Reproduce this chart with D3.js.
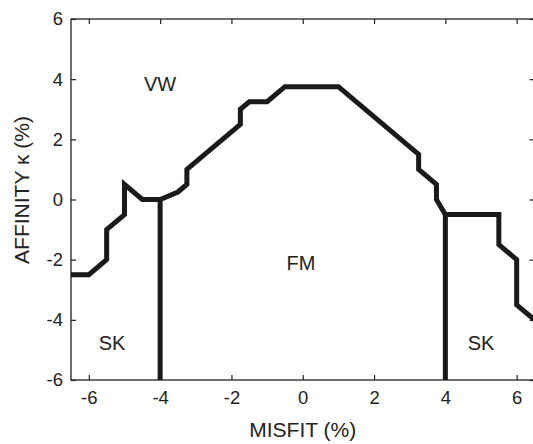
<!DOCTYPE html>
<html>
<head>
<meta charset="utf-8">
<script src="https://cdn.jsdelivr.net/npm/d3@7"></script>
<style>
  body { margin: 0; background: #fff; }
  text { font-family: "Liberation Sans", Arial, sans-serif; fill: #222; }
</style>
</head>
<body>
<svg id="chart" width="533" height="444"></svg>
<script>
// phase boundary (misfit %, affinity %)
var boundaryX = [-6.5, -6, -5.5, -5.5, -5, -5, -4.5, -4, -3.5, -3.25, -3.25, -1.75, -1.75, -1.5, -1, -0.5, 1, 3.25, 3.25, 3.75, 3.75, 4, 5.5, 5.5, 6, 6, 6.5];
var boundaryY = [-2.5, -2.5, -2, -1, -0.5, 0.5, 0, 0, 0.25, 0.5, 1, 2.5, 3, 3.25, 3.25, 3.75, 3.75, 1.5, 1, 0.5, 0, -0.5, -0.5, -1.5, -2, -3.5, -4];

// vertical separators [x, yTop, yBottom]
var separators = [[-4, 0, -6], [4, -0.5, -6]];

// region labels
var regionNames = ["VW", "FM", "SK", "SK"];
var regionX = [-4.0, -0.05, -5.35, 5.0];
var regionY = [3.83, -2.12, -4.78, -4.78];

var xTicks = [-6, -4, -2, 0, 2, 4, 6];
var yTicks = [-6, -4, -2, 0, 2, 4, 6];

var svg = d3.select("#chart");
var mLeft = 71, mTop = 19, mRight = 534.5, mBottom = 380;

var x = d3.scaleLinear().domain([-6.5, 6.5]).range([mLeft, mRight]);
var y = d3.scaleLinear().domain([-6, 6]).range([mBottom, mTop]);

var g = svg.append("g");
var fmt = function(d) { return String(d); };

// axes, matlab style box with inward ticks
function styleAxis(sel) {
    sel.select(".domain").remove();
    sel.selectAll(".tick line").attr("stroke", "#222").attr("stroke-width", 1.2);
    sel.selectAll(".tick text").style("font-size", "18.5px").attr("fill", "#222");
}

g.append("g").attr("transform", "translate(0," + mBottom + ")")
    .call(d3.axisBottom(x).tickValues(xTicks).tickSizeInner(-5).tickSizeOuter(0).tickPadding(11).tickFormat(fmt))
    .call(styleAxis);
g.append("g").attr("transform", "translate(0," + mTop + ")")
    .call(d3.axisTop(x).tickValues(xTicks).tickSizeInner(-5).tickSizeOuter(0).tickFormat(""))
    .call(styleAxis);
g.append("g").attr("transform", "translate(" + mLeft + ",0)")
    .call(d3.axisLeft(y).tickValues(yTicks).tickSizeInner(-5).tickSizeOuter(0).tickPadding(8).tickFormat(fmt))
    .call(styleAxis);
g.append("g").attr("transform", "translate(" + mRight + ",0)")
    .call(d3.axisRight(y).tickValues(yTicks).tickSizeInner(-5).tickSizeOuter(0).tickFormat(""))
    .call(styleAxis);

g.append("rect")
    .attr("x", mLeft).attr("y", mTop)
    .attr("width", mRight - mLeft).attr("height", mBottom - mTop)
    .attr("fill", "none").attr("stroke", "#222").attr("stroke-width", 1.3);

// boundary curve
var pts = boundaryX.map(function(d, i) { return [d, boundaryY[i]]; });
var line = d3.line().x(function(d) { return x(d[0]); }).y(function(d) { return y(d[1]); });

g.append("path")
    .attr("d", line(pts))
    .attr("fill", "none")
    .attr("stroke", "#1a1a1a")
    .attr("stroke-width", 5)
    .attr("stroke-linejoin", "miter");

separators.forEach(function(s) {
    g.append("line")
        .attr("x1", x(s[0])).attr("x2", x(s[0]))
        .attr("y1", y(s[1])).attr("y2", y(s[2]))
        .attr("stroke", "#1a1a1a")
        .attr("stroke-width", 5);
});

// region names
regionNames.forEach(function(n, i) {
    g.append("text")
        .attr("x", x(regionX[i]))
        .attr("y", y(regionY[i]))
        .attr("text-anchor", "middle")
        .attr("dy", ".36em")
        .style("font-size", "20px")
        .text(n);
});

// axis titles
svg.append("text")
    .attr("x", x(0))
    .attr("y", 437)
    .attr("text-anchor", "middle")
    .style("font-size", "21px")
    .text("MISFIT (%)");

svg.append("text")
    .attr("transform", "translate(29,190) rotate(-90)")
    .attr("text-anchor", "middle")
    .style("font-size", "21px")
    .text("AFFINITY κ (%)");
</script>
</body>
</html>
